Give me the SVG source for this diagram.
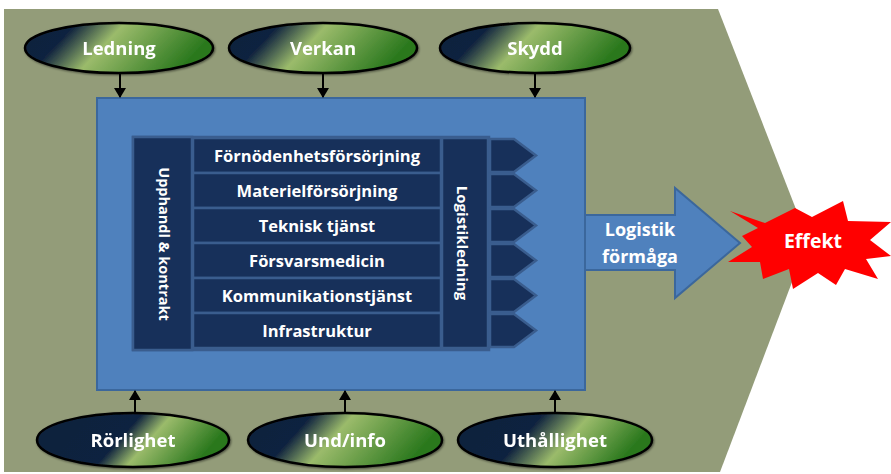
<svg xmlns="http://www.w3.org/2000/svg" width="891" height="474" viewBox="0 0 891 474">
<style>
.lbl{font-family:"Open Sans","Liberation Sans",sans-serif;font-weight:bold;fill:#ffffff;text-anchor:middle}
.ell{stroke:#000000;stroke-width:2.5}
.dk{fill:#17305a;stroke:#3a5d8e;stroke-width:2.5}
.row{font-size:16.5px}
.el{font-size:18.5px}
.conn{stroke:#000000;stroke-width:2;fill:none}
</style>
<defs>
<linearGradient id="gTop" x1="0" y1="0" x2="1" y2="0.25">
<stop offset="0" stop-color="#10223d"/><stop offset="0.26" stop-color="#11243f"/><stop offset="0.5" stop-color="#9bbb6b"/><stop offset="1" stop-color="#2a781d"/>
</linearGradient>
<linearGradient id="gR" x1="0" y1="0" x2="1" y2="0.25">
<stop offset="0" stop-color="#10223d"/><stop offset="0.52" stop-color="#11243f"/><stop offset="0.67" stop-color="#9bbb6b"/><stop offset="1" stop-color="#2a781d"/>
</linearGradient>
<linearGradient id="gUnd" x1="0" y1="0" x2="1" y2="0.25">
<stop offset="0" stop-color="#10223d"/><stop offset="0.32" stop-color="#11243f"/><stop offset="0.52" stop-color="#9bbb6b"/><stop offset="1" stop-color="#2a781d"/>
</linearGradient>
<linearGradient id="gU" x1="0" y1="0" x2="1" y2="0.25">
<stop offset="0" stop-color="#10223d"/><stop offset="0.42" stop-color="#11243f"/><stop offset="0.65" stop-color="#9bbb6b"/><stop offset="1" stop-color="#2a781d"/>
</linearGradient>
<marker id="ah" viewBox="0 0 10 12" refX="9" refY="6" markerWidth="5" markerHeight="6" orient="auto" markerUnits="strokeWidth">
<path d="M0,0 L10,6 L0,12 Z" fill="#000000"/>
</marker>
<filter id="sh" x="-10%" y="-10%" width="120%" height="130%">
<feDropShadow dx="1" dy="1" stdDeviation="0.8" flood-color="#000000" flood-opacity="0.5"/>
</filter>
</defs>

<polygon id="background" points="4,9 718,9 808,240 720,472 4,472" fill="#939c79"/>

<g id="system">
<rect x="97" y="98" width="488" height="292" fill="#4f81bd" stroke="#3b679c" stroke-width="2"/>
</g>

<g id="panel">
<rect x="133" y="137" width="356" height="213" class="dk"/>
</g>
<g id="upphandl">
<rect x="133" y="137" width="59" height="213" class="dk"/>
<text class="lbl" font-size="14.5" transform="translate(159,244) rotate(90)">Upphandl &amp; kontrakt</text>
</g>
<g id="rows">
<g id="r1"><rect x="193" y="138" width="248" height="35" class="dk"/><text class="lbl row" x="317" y="161.5">Förnödenhetsförsörjning</text></g>
<g id="r2"><rect x="193" y="173" width="248" height="35" class="dk"/><text class="lbl row" x="317" y="196.5">Materielförsörjning</text></g>
<g id="r3"><rect x="193" y="208" width="248" height="35" class="dk"/><text class="lbl row" x="317" y="231.5">Teknisk tjänst</text></g>
<g id="r4"><rect x="193" y="243" width="248" height="35" class="dk"/><text class="lbl row" x="317" y="266.5">Försvarsmedicin</text></g>
<g id="r5"><rect x="193" y="278" width="248" height="35" class="dk"/><text class="lbl row" x="317" y="301.5">Kommunikationstjänst</text></g>
<g id="r6"><rect x="193" y="313" width="248" height="35" class="dk"/><text class="lbl row" x="317" y="336.5">Infrastruktur</text></g>
</g>
<g id="logistikledning">
<rect x="442" y="138" width="46" height="210" class="dk"/>
<text class="lbl" font-size="15" transform="translate(457,243) rotate(90)">Logistikledning</text>
</g>
<g id="chevrons">
<polygon class="dk" points="490,139 514,139 536,155.5 514,172 490,172"/>
<polygon class="dk" points="490,174 514,174 536,190.5 514,207 490,207"/>
<polygon class="dk" points="490,209 514,209 536,225.5 514,242 490,242"/>
<polygon class="dk" points="490,244 514,244 536,260.5 514,277 490,277"/>
<polygon class="dk" points="490,279 514,279 536,295.5 514,312 490,312"/>
<polygon class="dk" points="490,314 514,314 536,330.5 514,347 490,347"/>
</g>

<g id="formaga">
<polygon points="585,215 675,215 675,188 740,243 675,298 675,270 585,270" fill="#4f81bd" stroke="#3b679c" stroke-width="2"/>
<text class="lbl" font-size="18" x="640" y="236">Logistik</text>
<text class="lbl" font-size="18" x="640" y="263">förmåga</text>
</g>

<g id="effekt">
<polygon fill="#ff0000" points="730,211 765,223 795,208 812,217 843,201 848,221 891,222 870,240 891,256 866,259 878,279 845,269 836,285 818,273 793,289 789,269 763,279 760,262 728,262 752,247 742,236 758,228"/>
<text class="lbl" font-size="19.5" x="813" y="248">Effekt</text>
</g>

<g id="ledning" filter="url(#sh)">
<ellipse cx="119" cy="48" rx="94" ry="25" fill="url(#gTop)" class="ell"/>
<text class="lbl el" x="119" y="54.5">Ledning</text>
</g>
<g id="verkan" filter="url(#sh)">
<ellipse cx="323" cy="48" rx="94" ry="25" fill="url(#gTop)" class="ell"/>
<text class="lbl el" x="323" y="54.5">Verkan</text>
</g>
<g id="skydd" filter="url(#sh)">
<ellipse cx="535" cy="48" rx="95" ry="25" fill="url(#gTop)" class="ell"/>
<text class="lbl el" x="535" y="54.5">Skydd</text>
</g>
<g id="rorlighet" filter="url(#sh)">
<ellipse cx="133" cy="440" rx="96" ry="27" fill="url(#gR)" class="ell"/>
<text class="lbl el" x="133" y="447">Rörlighet</text>
</g>
<g id="undinfo" filter="url(#sh)">
<ellipse cx="345" cy="440" rx="97" ry="27" fill="url(#gUnd)" class="ell"/>
<text class="lbl el" x="345" y="447">Und/info</text>
</g>
<g id="uthallighet" filter="url(#sh)">
<ellipse cx="555" cy="440" rx="97" ry="27" fill="url(#gU)" class="ell"/>
<text class="lbl el" x="555" y="447">Uthållighet</text>
</g>

<g id="connectors">
<line class="conn" x1="120" y1="74" x2="120" y2="97" marker-end="url(#ah)"/>
<line class="conn" x1="323" y1="74" x2="323" y2="97" marker-end="url(#ah)"/>
<line class="conn" x1="535" y1="74" x2="535" y2="97" marker-end="url(#ah)"/>
<line class="conn" x1="135" y1="412" x2="135" y2="391" marker-end="url(#ah)"/>
<line class="conn" x1="345" y1="412" x2="345" y2="391" marker-end="url(#ah)"/>
<line class="conn" x1="555" y1="412" x2="555" y2="391" marker-end="url(#ah)"/>
</g>
</svg>
